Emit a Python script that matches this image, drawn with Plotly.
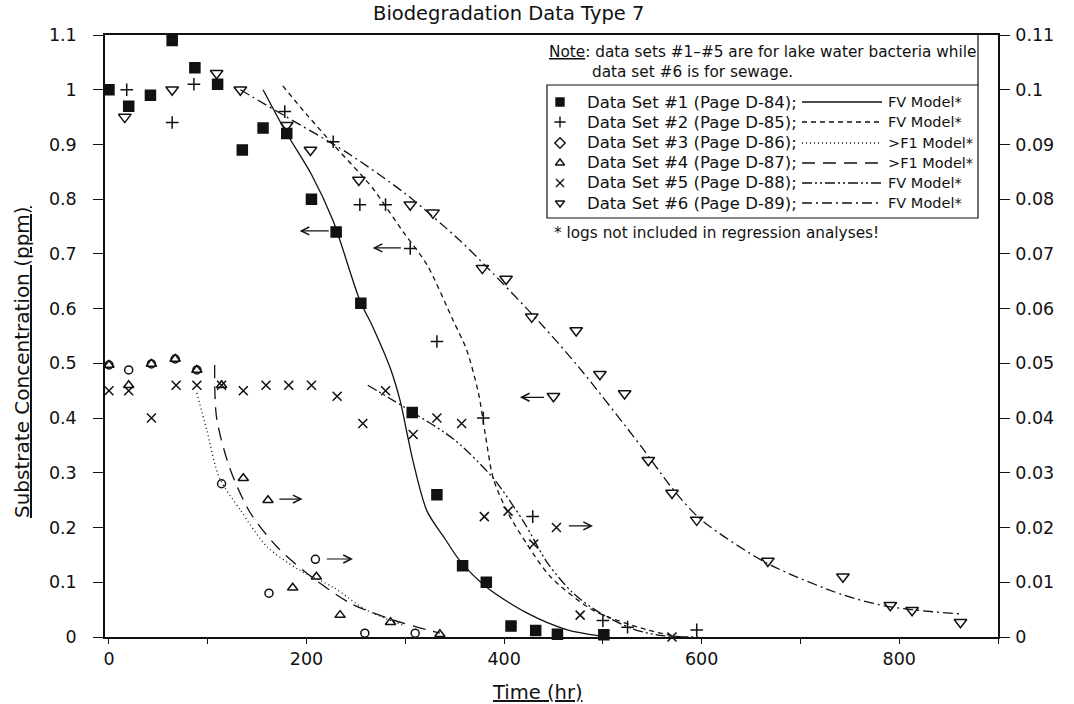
import plotly.graph_objects as go

# ---- data ----
# data sets 1, 2, 6 on the left axis (ppm); 3, 4, 5 on the right axis
ds1_t = [0, 20, 42, 64, 87, 110, 135, 156, 180, 205, 230, 255, 307, 332, 358, 382, 407, 432, 454, 501]
ds1_c = [1.0, 0.97, 0.99, 1.09, 1.04, 1.01, 0.89, 0.93, 0.92, 0.80, 0.74, 0.61, 0.41, 0.26, 0.13, 0.10, 0.02, 0.012, 0.005, 0.004]

ds2_t = [18, 64, 86, 178, 227, 254, 280, 305, 332, 379, 429, 500, 525, 595]
ds2_c = [1.0, 0.94, 1.01, 0.96, 0.905, 0.79, 0.79, 0.71, 0.54, 0.40, 0.22, 0.03, 0.018, 0.013]

ds3_t = [0, 20, 43, 67, 89, 114, 162, 209, 259, 310]
ds3_c = [0.0497, 0.0488, 0.0499, 0.0508, 0.0488, 0.028, 0.008, 0.0142, 0.0007, 0.0007]

ds4_t = [0, 20, 43, 67, 89, 114, 136, 161, 186, 210, 234, 285, 335]
ds4_c = [0.0497, 0.046, 0.0499, 0.0508, 0.0488, 0.046, 0.029, 0.025, 0.009, 0.011, 0.004, 0.0027, 0.0005]

ds5_t = [0, 20, 43, 68, 89, 114, 136, 159, 182, 205, 231, 257, 280, 308, 332, 357, 380, 404, 430, 453, 477, 570]
ds5_c = [0.045, 0.045, 0.040, 0.046, 0.046, 0.046, 0.045, 0.046, 0.046, 0.046, 0.044, 0.039, 0.045, 0.037,
         0.040, 0.039, 0.022, 0.023, 0.017, 0.020, 0.004, 0.0]

ds6_t = [16, 64, 109, 133, 180, 204, 253, 305, 328, 378, 402, 428, 450, 473, 497, 522, 546, 570, 595, 667, 743, 791, 813, 862]
ds6_c = [0.95, 1.0, 1.03, 1.0, 0.935, 0.89, 0.835, 0.79, 0.775, 0.674, 0.654, 0.585, 0.44, 0.56, 0.48, 0.445,
         0.323, 0.263, 0.214, 0.139, 0.11, 0.058, 0.049, 0.027]

# model curves
m1_t = [156, 180, 205, 227, 254, 267, 285, 295, 302, 308, 322, 340, 355, 383, 423, 464, 497]
m1_c = [1.0, 0.92, 0.845, 0.76, 0.615, 0.567, 0.49, 0.43, 0.37, 0.32, 0.23, 0.18, 0.14, 0.09, 0.044, 0.013, 0.002]

m2_t = [176, 200, 227, 255, 267, 298, 322, 348, 362, 374, 381, 389, 403, 423, 447, 490, 545, 578]
m2_c = [1.007, 0.955, 0.90, 0.845, 0.82, 0.74, 0.68, 0.58, 0.525, 0.446, 0.37, 0.29, 0.23, 0.17, 0.11, 0.049, 0.013, 0.0]

m3_t = [89, 99, 112, 133, 160, 193, 227, 260, 300]
m3_c = [0.0446, 0.0378, 0.029, 0.0232, 0.0165, 0.0122, 0.0091, 0.005, 0.002]

m4_t = [107, 109, 123, 143, 170, 200, 244, 288, 335]
m4_c = [0.0497, 0.040, 0.0305, 0.0227, 0.0165, 0.0117, 0.0062, 0.0031, 0.0007]

m5_t = [262, 308, 350, 389, 420, 444, 470, 497, 530, 558, 600]
m5_c = [0.046, 0.041, 0.036, 0.029, 0.021, 0.0135, 0.008, 0.0044, 0.0015, 0.0003, 0.0]

m6_t = [133, 180, 241, 300, 355, 383, 436, 477, 538, 571, 599, 666, 743, 791, 862]
m6_c = [1.0, 0.95, 0.885, 0.81, 0.725, 0.675, 0.575, 0.49, 0.35, 0.27, 0.215, 0.135, 0.077, 0.055, 0.042]

left_ticks = [0, 0.1, 0.2, 0.3, 0.4, 0.5, 0.6, 0.7, 0.8, 0.9, 1, 1.1]
left_text = ["0", "0.1", "0.2", "0.3", "0.4", "0.5", "0.6", "0.7", "0.8", "0.9", "1", "1.1"]
right_ticks = [0, 0.01, 0.02, 0.03, 0.04, 0.05, 0.06, 0.07, 0.08, 0.09, 0.1, 0.11]
right_text = ["0", "0.01", "0.02", "0.03", "0.04", "0.05", "0.06", "0.07", "0.08", "0.09", "0.1", "0.11"]
x_ticks = [0, 100, 200, 300, 400, 500, 600, 700, 800, 900]
x_text = ["0", "", "200", "", "400", "", "600", "", "800", ""]

legend_names = ["Data Set #1 (Page D-84);", "Data Set #2 (Page D-85);", "Data Set #3 (Page D-86);",
                "Data Set #4 (Page D-87);", "Data Set #5 (Page D-88);", "Data Set #6 (Page D-89);"]
legend_models = ["FV Model*", "FV Model*", ">F1 Model*", ">F1 Model*", "FV Model*", "FV Model*"]

FONT = "DejaVu Sans"
INK = "#111111"

# plot area in pixels
L, R, T, B = 105, 998, 35, 637
W, H = 1074, 704


def px(x, y):
    # pixel position -> paper coordinates (for decorations only)
    return (x - L) / (R - L), (B - y) / (B - T)


symbols = ["square", "cross-thin-open", "circle-open", "triangle-up-open", "x-thin-open", "triangle-down-open"]
sizes = [10, 9, 8, 9, 9, 11]
dashes = ["solid", "5px,4px", "1px,3px", "13px,8px", "10px,3px,2px,3px,2px,3px", "10px,4px,2px,4px"]

fig = go.Figure()

sets = [(ds1_t, ds1_c, "y"), (ds2_t, ds2_c, "y"), (ds3_t, ds3_c, "y2"),
        (ds4_t, ds4_c, "y2"), (ds5_t, ds5_c, "y2"), (ds6_t, ds6_c, "y")]
models = [(m1_t, m1_c, "y"), (m2_t, m2_c, "y"), (m3_t, m3_c, "y2"),
          (m4_t, m4_c, "y2"), (m5_t, m5_c, "y2"), (m6_t, m6_c, "y")]

for i, (t, c, ax) in enumerate(models):
    fig.add_trace(go.Scatter(x=t, y=c, yaxis=ax, mode="lines", line_shape="spline",
                             line=dict(color=INK, width=1.3, dash=dashes[i], smoothing=0.8), showlegend=False))

for i, (t, c, ax) in enumerate(sets):
    fig.add_trace(go.Scatter(x=t, y=c, yaxis=ax, mode="markers", cliponaxis=False,
                             marker=dict(symbol=symbols[i], size=sizes[i], color=INK,
                                         line=dict(color=INK, width=1.5)),
                             showlegend=False))

# hand-drawn legend (marker, text, line sample, model text) on a pixel overlay axis
rows_y = [102, 122, 143, 163, 183, 203]
leg_symbols = ["square", "cross-thin-open", "diamond-open", "triangle-up-open", "x-thin-open", "triangle-down-open"]
for i, ry in enumerate(rows_y):
    fig.add_trace(go.Scatter(x=[560], y=[ry], xaxis="x3", yaxis="y3", mode="markers",
                             marker=dict(symbol=leg_symbols[i], size=8, color=INK, line=dict(color=INK, width=1.4)),
                             showlegend=False))
    fig.add_trace(go.Scatter(x=[802, 882], y=[ry, ry], xaxis="x3", yaxis="y3", mode="lines",
                             line=dict(color=INK, width=1.3, dash=dashes[i]), showlegend=False))

annotations = []
for i, ry in enumerate(rows_y):
    x0, y0 = px(585, ry)
    annotations.append(dict(text=legend_names[i], x=x0, y=y0, xref="paper", yref="paper",
                            xanchor="left", yanchor="middle", showarrow=False,
                            font=dict(family=FONT, size=16.5, color=INK)))
    x1, _ = px(886, ry)
    annotations.append(dict(text=legend_models[i], x=x1, y=y0, xref="paper", yref="paper",
                            xanchor="left", yanchor="middle", showarrow=False,
                            font=dict(family=FONT, size=14.5, color=INK)))

notes = [(547, 52, '<span style="text-decoration:underline">Note</span>: data sets #1\u2013#5 are for lake water bacteria while'),
         (590, 72, "data set #6 is for sewage."),
         (552, 233, "* logs not included in regression analyses!")]
for nx, ny, txt in notes:
    x0, y0 = px(nx, ny)
    annotations.append(dict(text=txt, x=x0, y=y0, xref="paper", yref="paper",
                            xanchor="left", yanchor="middle", showarrow=False,
                            font=dict(family=FONT, size=15.3, color=INK)))

# title and axis titles
tx, ty = px(508, 13)
annotations.append(dict(text="Biodegradation Data Type 7", x=tx, y=ty, xref="paper", yref="paper",
                        xanchor="center", yanchor="middle", showarrow=False,
                        font=dict(family=FONT, size=19.5, color=INK)))
tx, ty = px(537, 692)
annotations.append(dict(text='<span style="text-decoration:underline">Time (hr)</span>', x=tx, y=ty,
                        xref="paper", yref="paper", xanchor="center", yanchor="middle", showarrow=False,
                        font=dict(family=FONT, size=19.5, color=INK)))
tx, ty = px(22, 362)
annotations.append(dict(text='<span style="text-decoration:underline">Substrate Concentration (ppm)</span>',
                        x=tx, y=ty, xref="paper", yref="paper", xanchor="center", yanchor="middle",
                        showarrow=False, textangle=-90,
                        font=dict(family=FONT, size=20, color=INK)))

# arrows telling which axis a data set belongs to (head, tail)
arrows = [(193, 0.742, 224), (267, 0.711, 297), (416, 0.438, 442),
          (196, 0.252, 171), (247, 0.1425, 219), (490, 0.203, 464)]
for hx, hy, tailx in arrows:
    annotations.append(dict(x=hx, y=hy, ax=tailx, ay=hy, xref="x", yref="y", axref="x", ayref="y",
                            showarrow=True, arrowhead=5, arrowsize=1.3, arrowwidth=1.2, arrowcolor=INK, text=""))

shapes = []
# legend box and the note frame edge
bx0, by0 = px(547, 85)
bx1, by1 = px(978, 218)
shapes.append(dict(type="rect", xref="paper", yref="paper", x0=bx0, y0=by1, x1=bx1, y1=by0,
                   line=dict(color=INK, width=1.2)))
_, ytop = px(978, T)
shapes.append(dict(type="line", xref="paper", yref="paper", x0=bx1, x1=bx1, y0=by0, y1=ytop,
                   line=dict(color=INK, width=1.2)))

axis_font = dict(family=FONT, size=17.5, color=INK)
fig.update_layout(
    width=W, height=H,
    margin=dict(l=L, r=W - R, t=T, b=H - B),
    paper_bgcolor="white", plot_bgcolor="white",
    showlegend=False,
    annotations=annotations, shapes=shapes,
    xaxis=dict(range=[-4, 900], tickvals=x_ticks, ticktext=x_text, ticks="outside", ticklen=5,
               tickcolor=INK, showline=True, linecolor=INK, linewidth=1.5, mirror=True,
               showgrid=False, zeroline=False, tickfont=axis_font, ticklabelstandoff=0),
    yaxis=dict(range=[0, 1.1], tickvals=left_ticks, ticktext=left_text, ticks="outside", ticklen=10,
               tickcolor=INK, showline=True, linecolor=INK, linewidth=1.5,
               showgrid=False, zeroline=False, tickfont=axis_font, ticklabelstandoff=13),
    yaxis2=dict(range=[0, 0.11], overlaying="y", side="right", tickvals=right_ticks, ticktext=right_text,
                ticks="outside", ticklen=10, tickcolor=INK, showline=True, linecolor=INK, linewidth=1.5,
                showgrid=False, zeroline=False, tickfont=axis_font, ticklabelstandoff=2),
    xaxis3=dict(range=[L, R], overlaying="x", visible=False, fixedrange=True),
    yaxis3=dict(range=[B, T], overlaying="y", visible=False, fixedrange=True),
)

fig.write_html("out.html", config={"displayModeBar": False},
               post_script="document.body.style.margin='0';")
